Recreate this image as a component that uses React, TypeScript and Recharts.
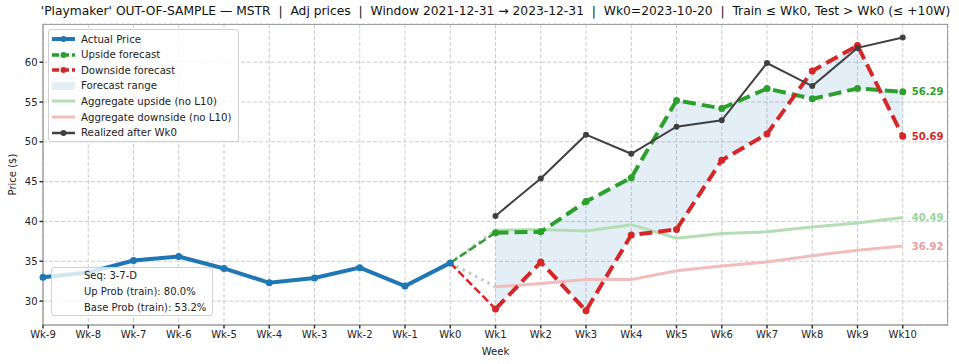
import { Area, CartesianGrid, ComposedChart, Line, XAxis, YAxis } from 'recharts'

// week index: Wk-9 .. Wk10
const weeks = [-9, -8, -7, -6, -5, -4, -3, -2, -1, 0, 1, 2, 3, 4, 5, 6, 7, 8, 9, 10]
const yTicks = [30, 35, 40, 45, 50, 55, 60]

// Wk-9 .. Wk0
const actualPrice = [33.0, 33.6, 35.1, 35.6, 34.1, 32.3, 32.9, 34.2, 31.9, 34.8]
// Wk1 .. Wk10
const upsideForecast = [38.6, 38.7, 42.5, 45.5, 55.2, 54.2, 56.7, 55.4, 56.7, 56.29]
const downsideForecast = [29.0, 34.9, 28.8, 38.3, 39.0, 47.7, 51.0, 58.9, 62.1, 50.69]
const aggregateUpside = [38.9, 39.0, 38.8, 39.6, 37.9, 38.5, 38.7, 39.3, 39.8, 40.49]
const aggregateDownside = [31.8, 32.2, 32.7, 32.7, 33.8, 34.4, 34.9, 35.7, 36.4, 36.92]
const realizedAfterWk0 = [40.7, 45.4, 50.9, 48.5, 51.9, 52.7, 59.9, 57.0, 61.8, 63.1]

const BLUE = '#1f77b4'
const GREEN = '#2ca02c'
const RED = '#d62728'
const DARK = '#404040'
const LIGHT_GREEN = '#b3deb3'
const LIGHT_RED = '#f2bcbc'
const FONT = '"DejaVu Sans", sans-serif'

const wk0 = actualPrice[actualPrice.length - 1]

const chartData = weeks.map((week, i) => {
  const row: Record<string, number | number[] | undefined> = { week }
  if (week <= 0) row.actual = actualPrice[i]
  if (week >= 1) {
    const f = week - 1
    row.up = upsideForecast[f]
    row.down = downsideForecast[f]
    row.aggUp = aggregateUpside[f]
    row.aggDown = aggregateDownside[f]
    row.realized = realizedAfterWk0[f]
    row.range = [downsideForecast[f], upsideForecast[f]]
  }
  if (week === 0) {
    row.upLink = wk0
    row.downLink = wk0
    row.aggUpLink = wk0
    row.aggDownLink = wk0
  }
  if (week === 1) {
    row.upLink = upsideForecast[0]
    row.downLink = downsideForecast[0]
    row.aggUpLink = aggregateUpside[0]
    row.aggDownLink = aggregateDownside[0]
  }
  return row
})

const lastIndex = weeks.length - 1

const endLabel = (color: string) => (props: any) => {
  if (props.index !== lastIndex) return <g key={props.index} />
  return (
    <text
      key={props.index}
      x={props.x + 9}
      y={props.y}
      dy="0.35em"
      fill={color}
      fontSize={10}
      fontWeight="bold"
      fontFamily={FONT}
    >
      {Number(props.value).toFixed(2)}
    </text>
  )
}

const legendItems = [
  { name: 'Actual Price', color: BLUE, width: 4, dash: undefined, dot: true },
  { name: 'Upside forecast', color: GREEN, width: 3.5, dash: '7 3', dot: true },
  { name: 'Downside forecast', color: RED, width: 3.5, dash: '7 3', dot: true },
  { name: 'Forecast range', color: '', width: 0, dash: undefined, dot: false },
  { name: 'Aggregate upside (no L10)', color: LIGHT_GREEN, width: 3, dash: undefined, dot: false },
  { name: 'Aggregate downside (no L10)', color: LIGHT_RED, width: 3, dash: undefined, dot: false },
  { name: 'Realized after Wk0', color: DARK, width: 2.5, dash: undefined, dot: true },
]

function LegendBox() {
  return (
    <div
      style={{
        position: 'absolute',
        left: 48,
        top: 29,
        width: 189,
        height: 111,
        border: '1px solid #d0d0d0',
        borderRadius: 3,
        background: 'rgba(255,255,255,0.8)',
        fontFamily: FONT,
        fontSize: 10.2,
        color: '#222',
      }}
    >
      {legendItems.map((item, i) => (
        <div
          key={item.name}
          style={{ position: 'absolute', left: 0, top: 2 + i * 15.6, height: 14, display: 'flex', alignItems: 'center' }}
        >
          <svg width={30} height={14} style={{ marginLeft: 1 }}>
            {item.color === '' ? (
              <rect x={2} y={3} width={23} height={8} fill={BLUE} fillOpacity={0.12} />
            ) : (
              <>
                <line
                  x1={2}
                  x2={25}
                  y1={7}
                  y2={7}
                  stroke={item.color}
                  strokeWidth={item.width}
                  strokeDasharray={item.dash}
                />
                {item.dot && <circle cx={13.5} cy={7} r={3} fill={item.color} />}
              </>
            )}
          </svg>
          <span style={{ marginLeft: 1 }}>{item.name}</span>
        </div>
      ))}
    </div>
  )
}

function InfoBox() {
  return (
    <div
      style={{
        position: 'absolute',
        left: 51,
        top: 267,
        width: 162,
        height: 49,
        border: '1px solid #d0d0d0',
        borderRadius: 3,
        background: 'rgba(255,255,255,0.8)',
        fontFamily: FONT,
        fontSize: 10,
        color: '#222',
        lineHeight: '16px',
        paddingLeft: 32,
        paddingTop: 0,
        boxSizing: 'border-box',
      }}
    >
      <div>Seq: 3-7-D</div>
      <div>Up Prob (train): 80.0%</div>
      <div>Base Prob (train): 53.2%</div>
    </div>
  )
}

export default function App() {
  return (
    <div style={{ position: 'absolute', left: 0, top: 0, width: 959, height: 364, background: '#fff' }}>
      <div
        style={{
          position: 'absolute',
          left: 0,
          width: 991,
          top: 4,
          textAlign: 'center',
          fontFamily: FONT,
          fontSize: 12.3,
          color: '#111',
          whiteSpace: 'pre',
        }}
      >
        {"'Playmaker' OUT-OF-SAMPLE — MSTR  |  Adj prices  |  Window 2021-12-31 → 2023-12-31  |  Wk0=2023-10-20  |  Train ≤ Wk0, Test > Wk0 (≤ +10W)"}
      </div>
      <ComposedChart
        width={959}
        height={364}
        data={chartData}
        margin={{ top: 24, right: 11, left: 0, bottom: 0 }}
        style={{ position: 'absolute', left: 0, top: 0 }}
      >
        <CartesianGrid stroke="#cccccc" strokeDasharray="4 2" />
        <XAxis
          dataKey="week"
          type="number"
          domain={[-9, 11]}
          ticks={weeks}
          tickFormatter={(w: number) => `Wk${w}`}
          height={39}
          tickSize={3.5}
          tickMargin={2}
          interval={0}
          stroke="#a0a0a0"
          strokeWidth={1.5}
          tick={{ fill: '#222', fontSize: 10, fontFamily: FONT }}
          tickLine={{ stroke: '#333' }}
          label={{ value: 'Week', position: 'insideBottom', offset: 9, fill: '#222', fontSize: 10, fontFamily: FONT }}
        />
        <YAxis
          type="number"
          domain={[27, 64.8]}
          ticks={yTicks}
          allowDataOverflow
          width={43}
          tickSize={3.5}
          tickMargin={2}
          stroke="#a0a0a0"
          strokeWidth={1.5}
          tick={{ fill: '#222', fontSize: 10, fontFamily: FONT }}
          tickLine={{ stroke: '#333' }}
          label={({ viewBox }: any) => (
            <text
              x={12}
              y={viewBox.y + viewBox.height / 2}
              transform={`rotate(-90, 12, ${viewBox.y + viewBox.height / 2})`}
              textAnchor="middle"
              dominantBaseline="central"
              fill="#222"
              fontSize={10}
              fontFamily={FONT}
            >
              Price ($)
            </text>
          )}
        />
        <Area
          dataKey="range"
          stroke="none"
          fill={BLUE}
          fillOpacity={0.12}
          isAnimationActive={false}
          activeDot={false}
        />
        <Line
          dataKey="aggUpLink"
          stroke="#c4c4c4"
          strokeWidth={3}
          strokeDasharray="2.5 4.5"
          dot={false}
          activeDot={false}
          isAnimationActive={false}
        />
        <Line
          dataKey="aggDownLink"
          stroke="#c4c4c4"
          strokeWidth={3}
          strokeDasharray="2.5 4.5"
          dot={false}
          activeDot={false}
          isAnimationActive={false}
        />
        <Line
          dataKey="aggUp"
          stroke={LIGHT_GREEN}
          strokeWidth={3}
          dot={false}
          activeDot={false}
          isAnimationActive={false}
          label={endLabel('#98d498')}
        />
        <Line
          dataKey="aggDown"
          stroke={LIGHT_RED}
          strokeWidth={3}
          dot={false}
          activeDot={false}
          isAnimationActive={false}
          label={endLabel('#ee9a9a')}
        />
        <Line
          dataKey="upLink"
          stroke={GREEN}
          strokeWidth={2.5}
          strokeDasharray="8 3.5"
          dot={false}
          activeDot={false}
          isAnimationActive={false}
        />
        <Line
          dataKey="downLink"
          stroke={RED}
          strokeWidth={2.5}
          strokeDasharray="8 3.5"
          dot={false}
          activeDot={false}
          isAnimationActive={false}
        />
        <Line
          dataKey="up"
          stroke={GREEN}
          strokeWidth={4}
          strokeDasharray="13 6"
          dot={{ r: 3.5, fill: GREEN, stroke: 'none' }}
          activeDot={false}
          isAnimationActive={false}
          label={endLabel(GREEN)}
        />
        <Line
          dataKey="down"
          stroke={RED}
          strokeWidth={4}
          strokeDasharray="13 6"
          dot={{ r: 3.5, fill: RED, stroke: 'none' }}
          activeDot={false}
          isAnimationActive={false}
          label={endLabel(RED)}
        />
        <Line
          dataKey="realized"
          stroke={DARK}
          strokeWidth={2}
          dot={{ r: 3, fill: DARK, stroke: 'none' }}
          activeDot={false}
          isAnimationActive={false}
        />
        <Line
          dataKey="actual"
          stroke={BLUE}
          strokeWidth={4}
          dot={{ r: 3.5, fill: BLUE, stroke: 'none' }}
          activeDot={false}
          isAnimationActive={false}
        />
      </ComposedChart>
      {/* top and right frame of the plot area */}
      <div
        style={{
          position: 'absolute',
          left: 43,
          top: 24,
          width: 905,
          height: 301,
          borderTop: '1px solid #a0a0a0',
          borderRight: '1px solid #a0a0a0',
          boxSizing: 'border-box',
          pointerEvents: 'none',
        }}
      />
      <LegendBox />
      <InfoBox />
    </div>
  )
}
